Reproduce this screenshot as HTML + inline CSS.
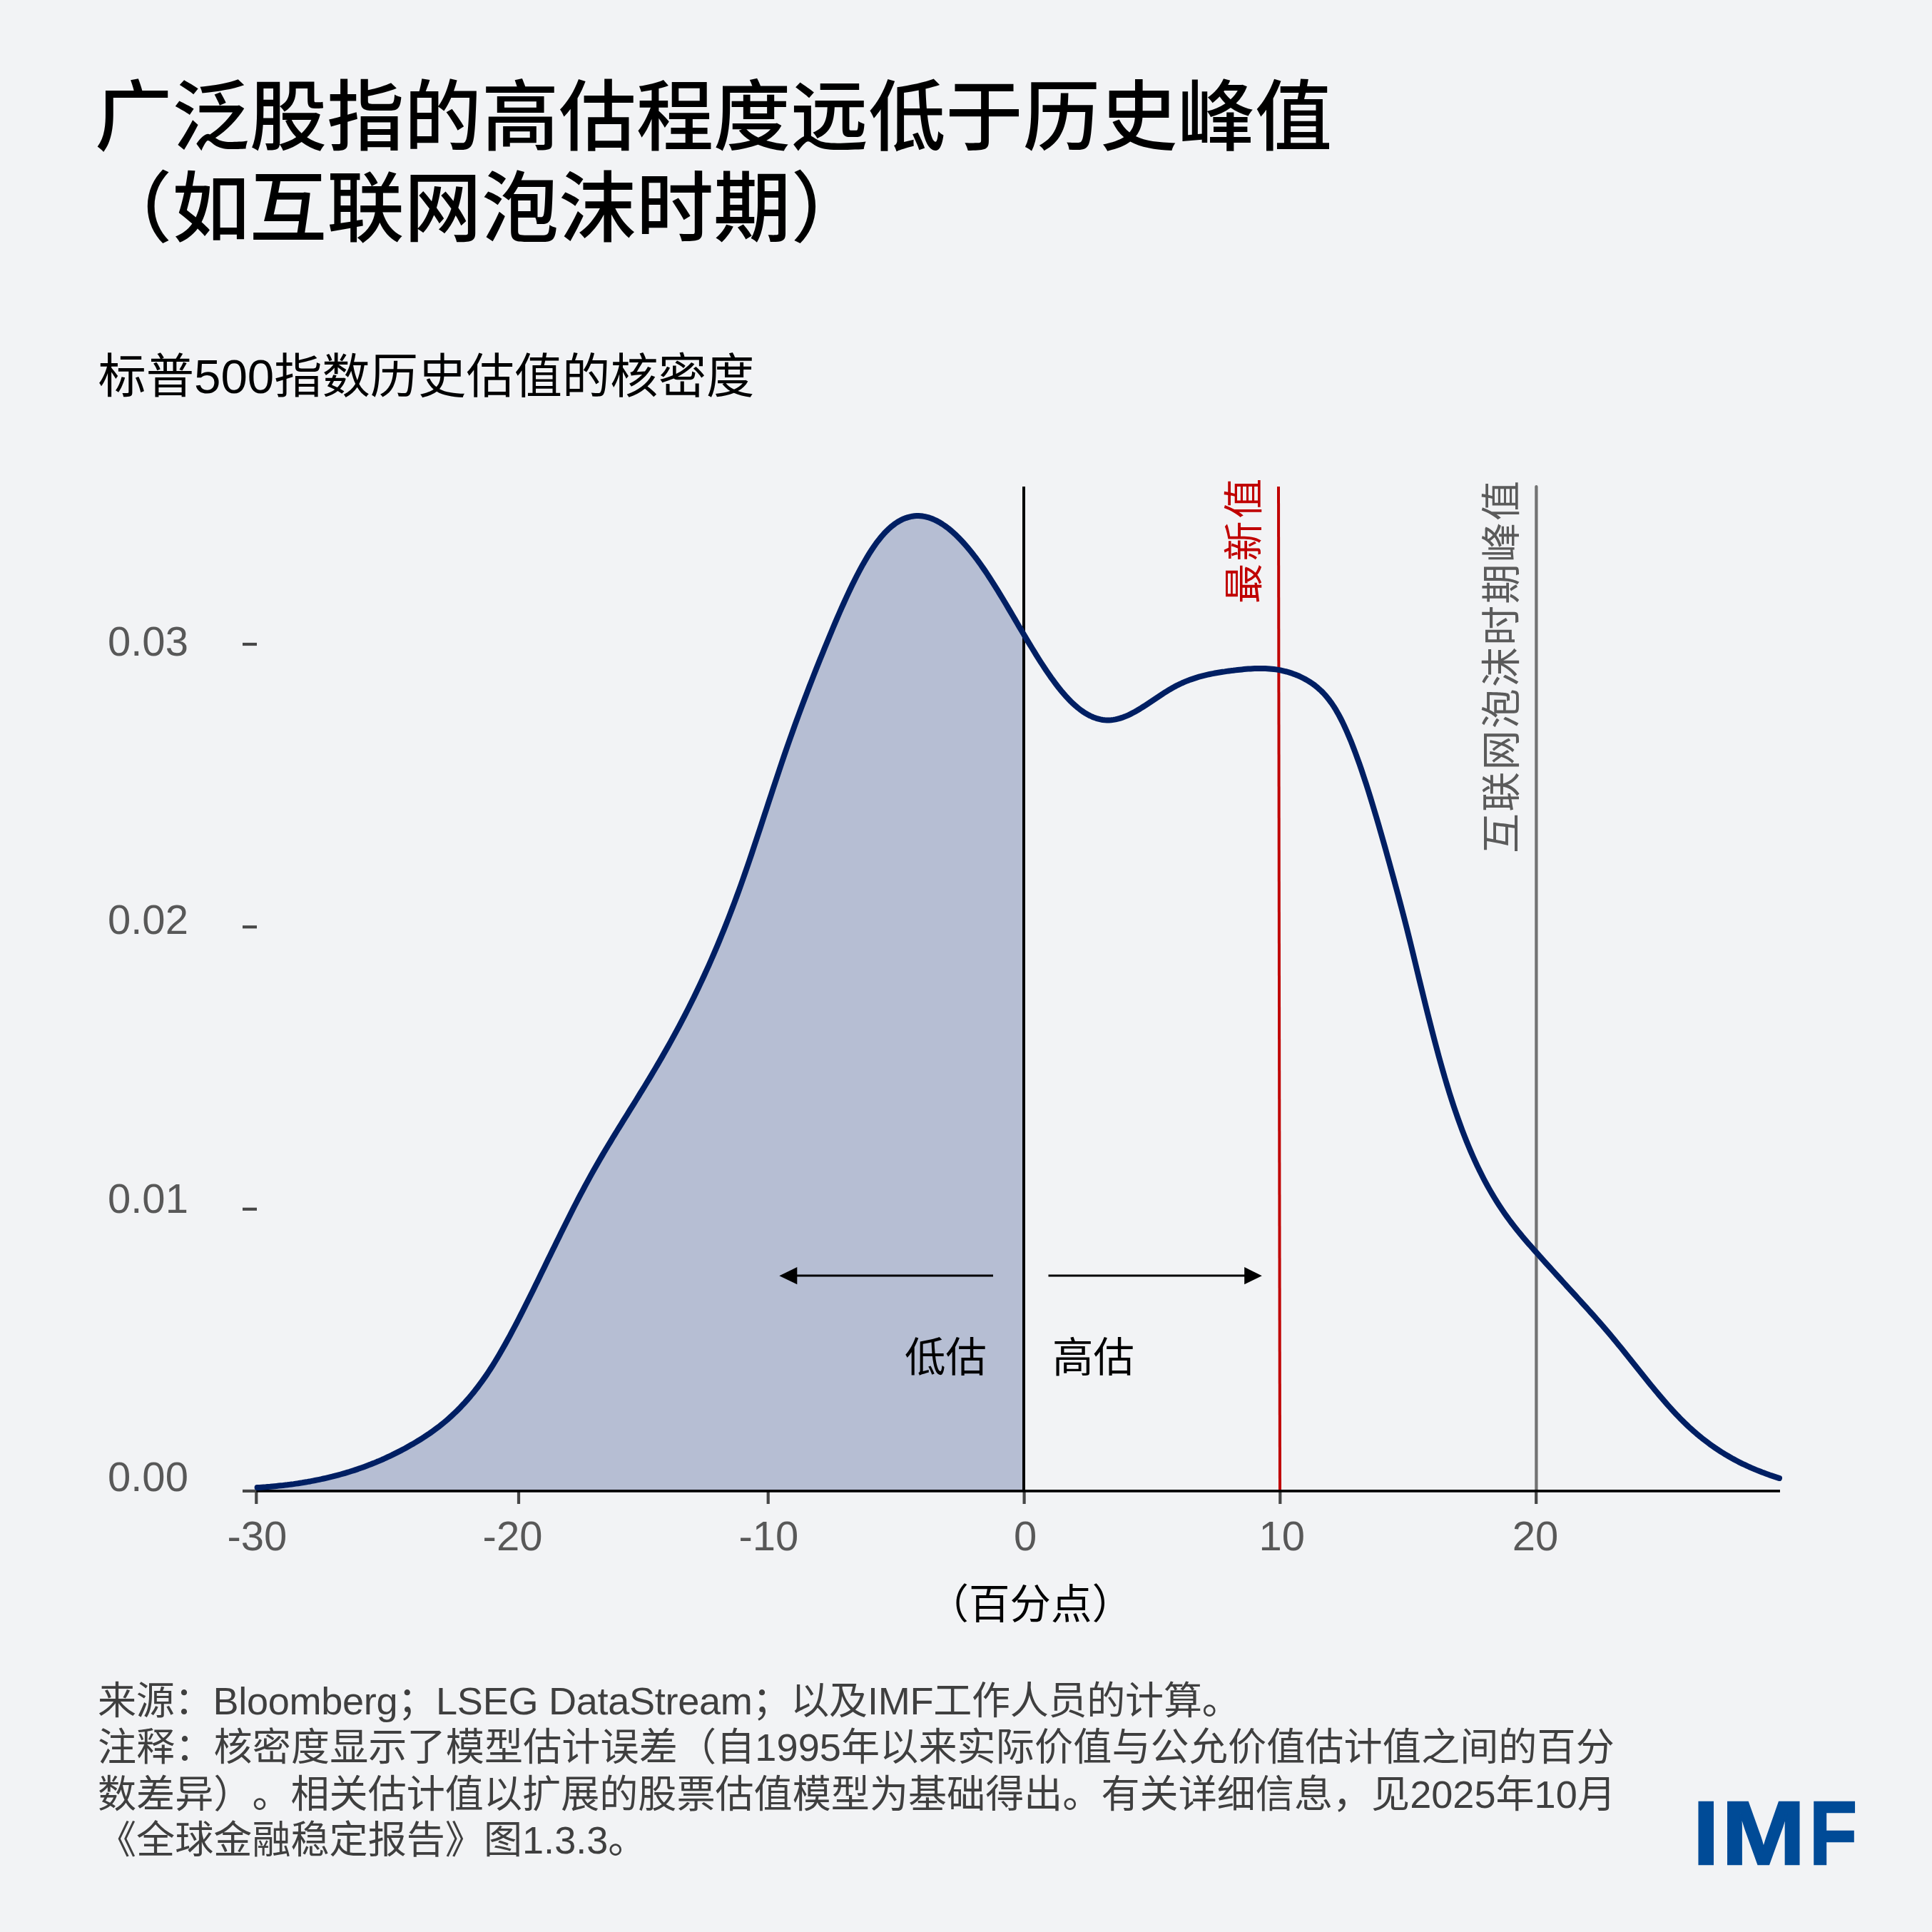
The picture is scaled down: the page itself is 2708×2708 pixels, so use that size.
<!DOCTYPE html>
<html lang="zh-CN"><head><meta charset="utf-8">
<style>
html,body{margin:0;padding:0;}
body{width:2708px;height:2708px;background:#f2f3f5;position:relative;overflow:hidden;
font-family:"Liberation Sans","Noto Sans CJK SC",sans-serif;text-spacing-trim:space-all;}
.a{position:absolute;white-space:nowrap;line-height:1;margin:0;}
#t1,#t2{font-weight:500;font-size:108.4px;color:#000;}
#t1{left:133px;top:110.5px;}
#t2{left:133px;top:239px;}
#sub{left:137.4px;top:494px;font-size:67.3px;color:#000;}
.yl{font-size:58px;color:#585858;left:151px;}
.xl{font-size:58px;color:#585858;top:2124px;}
.cl{font-size:57.5px;color:#000;}
.fl{left:137px;font-size:54.1px;color:#3f3f3f;}
.imf{font-size:126px;font-weight:700;color:#004b97;top:2507.3px;-webkit-text-stroke:2.5px #004b97;transform-origin:0 0;}
</style></head><body>
<svg width="2708" height="2708" style="position:absolute;left:0;top:0">
<path d="M360.6,2085.1 L363.6,2084.9 L366.6,2084.7 L369.6,2084.5 L372.6,2084.3 L375.6,2084.0 L378.6,2083.8 L381.6,2083.5 L384.6,2083.2 L387.6,2082.9 L390.6,2082.6 L393.6,2082.3 L396.6,2082.0 L399.6,2081.6 L402.6,2081.3 L405.6,2080.9 L408.6,2080.5 L411.6,2080.1 L414.6,2079.6 L417.6,2079.2 L420.6,2078.7 L423.6,2078.3 L426.6,2077.8 L429.6,2077.3 L432.6,2076.7 L435.6,2076.2 L438.6,2075.6 L441.6,2075.0 L444.6,2074.4 L447.6,2073.8 L450.6,2073.2 L453.6,2072.5 L456.6,2071.8 L459.6,2071.1 L462.6,2070.4 L465.6,2069.7 L468.6,2068.9 L471.6,2068.1 L474.6,2067.3 L477.6,2066.5 L480.6,2065.7 L483.6,2064.8 L486.6,2063.9 L489.6,2063.0 L492.6,2062.0 L495.6,2061.1 L498.6,2060.1 L501.6,2059.1 L504.6,2058.0 L507.6,2057.0 L510.6,2055.9 L513.6,2054.8 L516.6,2053.6 L519.6,2052.5 L522.6,2051.3 L525.6,2050.1 L528.6,2048.8 L531.6,2047.6 L534.6,2046.3 L537.6,2045.0 L540.6,2043.6 L543.6,2042.2 L546.6,2040.8 L549.6,2039.4 L552.6,2037.9 L555.6,2036.4 L558.6,2034.9 L561.6,2033.4 L564.6,2031.8 L567.6,2030.2 L570.6,2028.5 L573.6,2026.8 L576.6,2025.1 L579.6,2023.4 L582.6,2021.6 L585.6,2019.8 L588.6,2018.0 L591.6,2016.1 L594.6,2014.2 L597.6,2012.2 L600.6,2010.2 L603.6,2008.1 L606.6,2006.0 L609.6,2003.8 L612.6,2001.6 L615.6,1999.3 L618.6,1996.9 L621.6,1994.5 L624.6,1992.0 L627.6,1989.4 L630.6,1986.7 L633.6,1984.0 L636.6,1981.2 L639.6,1978.3 L642.6,1975.3 L645.6,1972.3 L648.6,1969.1 L651.6,1965.9 L654.6,1962.5 L657.6,1959.1 L660.6,1955.5 L663.6,1951.9 L666.6,1948.1 L669.6,1944.2 L672.6,1940.2 L675.6,1936.1 L678.6,1931.9 L681.6,1927.6 L684.6,1923.1 L687.6,1918.5 L690.6,1913.8 L693.6,1909.0 L696.6,1904.0 L699.6,1899.0 L702.6,1893.8 L705.6,1888.6 L708.6,1883.2 L711.6,1877.8 L714.6,1872.3 L717.6,1866.7 L720.6,1861.0 L723.6,1855.3 L726.6,1849.5 L729.6,1843.7 L732.6,1837.8 L735.6,1831.8 L738.6,1825.8 L741.6,1819.8 L744.6,1813.7 L747.6,1807.7 L750.6,1801.6 L753.6,1795.4 L756.6,1789.3 L759.6,1783.1 L762.6,1777.0 L765.6,1770.8 L768.6,1764.6 L771.6,1758.5 L774.6,1752.3 L777.6,1746.2 L780.6,1740.0 L783.6,1733.9 L786.6,1727.8 L789.6,1721.7 L792.6,1715.7 L795.6,1709.7 L798.6,1703.7 L801.6,1697.7 L804.6,1691.8 L807.6,1686.0 L810.6,1680.2 L813.6,1674.4 L816.6,1668.8 L819.6,1663.1 L822.6,1657.6 L825.6,1652.1 L828.6,1646.6 L831.6,1641.3 L834.6,1636.0 L837.6,1630.7 L840.6,1625.5 L843.6,1620.4 L846.6,1615.3 L849.6,1610.2 L852.6,1605.2 L855.6,1600.3 L858.6,1595.3 L861.6,1590.4 L864.6,1585.5 L867.6,1580.6 L870.6,1575.8 L873.6,1570.9 L876.6,1566.1 L879.6,1561.3 L882.6,1556.4 L885.6,1551.6 L888.6,1546.8 L891.6,1542.0 L894.6,1537.1 L897.6,1532.2 L900.6,1527.4 L903.6,1522.5 L906.6,1517.5 L909.6,1512.6 L912.6,1507.6 L915.6,1502.5 L918.6,1497.5 L921.6,1492.4 L924.6,1487.2 L927.6,1482.1 L930.6,1476.8 L933.6,1471.5 L936.6,1466.2 L939.6,1460.9 L942.6,1455.4 L945.6,1449.9 L948.6,1444.4 L951.6,1438.8 L954.6,1433.1 L957.6,1427.4 L960.6,1421.6 L963.6,1415.7 L966.6,1409.8 L969.6,1403.8 L972.6,1397.7 L975.6,1391.5 L978.6,1385.3 L981.6,1378.9 L984.6,1372.5 L987.6,1366.0 L990.6,1359.4 L993.6,1352.8 L996.6,1346.0 L999.6,1339.1 L1002.6,1332.1 L1005.6,1325.1 L1008.6,1317.9 L1011.6,1310.6 L1014.6,1303.2 L1017.6,1295.7 L1020.6,1288.1 L1023.6,1280.4 L1026.6,1272.5 L1029.6,1264.6 L1032.6,1256.5 L1035.6,1248.3 L1038.6,1240.0 L1041.6,1231.5 L1044.6,1222.9 L1047.6,1214.2 L1050.6,1205.5 L1053.6,1196.6 L1056.6,1187.6 L1059.6,1178.6 L1062.6,1169.6 L1065.6,1160.4 L1068.6,1151.3 L1071.6,1142.1 L1074.6,1133.0 L1077.6,1123.8 L1080.6,1114.7 L1083.6,1105.5 L1086.6,1096.4 L1089.6,1087.4 L1092.6,1078.4 L1095.6,1069.5 L1098.6,1060.6 L1101.6,1051.9 L1104.6,1043.3 L1107.6,1034.7 L1110.6,1026.3 L1113.6,1017.9 L1116.6,1009.7 L1119.6,1001.5 L1122.6,993.4 L1125.6,985.4 L1128.6,977.5 L1131.6,969.6 L1134.6,961.8 L1137.6,954.1 L1140.6,946.4 L1143.6,938.8 L1146.6,931.3 L1149.6,923.8 L1152.6,916.4 L1155.6,909.0 L1158.6,901.7 L1161.6,894.4 L1164.6,887.2 L1167.6,880.0 L1170.6,872.9 L1173.6,865.9 L1176.6,859.0 L1179.6,852.2 L1182.6,845.5 L1185.6,838.9 L1188.6,832.4 L1191.6,826.0 L1194.6,819.8 L1197.6,813.7 L1200.6,807.8 L1203.6,802.0 L1206.6,796.4 L1209.6,790.9 L1212.6,785.7 L1215.6,780.6 L1218.6,775.7 L1221.6,771.0 L1224.6,766.5 L1227.6,762.2 L1230.6,758.2 L1233.6,754.4 L1236.6,750.8 L1239.6,747.4 L1242.6,744.3 L1245.6,741.4 L1248.6,738.7 L1251.6,736.3 L1254.6,734.0 L1257.6,732.0 L1260.6,730.2 L1263.6,728.6 L1266.6,727.2 L1269.6,726.1 L1272.6,725.1 L1275.6,724.3 L1278.6,723.7 L1281.6,723.3 L1284.6,723.1 L1287.6,723.1 L1290.6,723.3 L1293.6,723.6 L1296.6,724.2 L1299.6,724.9 L1302.6,725.7 L1305.6,726.8 L1308.6,728.0 L1311.6,729.4 L1314.6,730.9 L1317.6,732.6 L1320.6,734.5 L1323.6,736.5 L1326.6,738.6 L1329.6,740.9 L1332.6,743.4 L1335.6,746.0 L1338.6,748.7 L1341.6,751.6 L1344.6,754.6 L1347.6,757.7 L1350.6,761.0 L1353.6,764.4 L1356.6,767.9 L1359.6,771.5 L1362.6,775.2 L1365.6,779.1 L1368.6,783.0 L1371.6,787.1 L1374.6,791.3 L1377.6,795.6 L1380.6,799.9 L1383.6,804.4 L1386.6,809.0 L1389.6,813.6 L1392.6,818.3 L1395.6,823.1 L1398.6,827.9 L1401.6,832.8 L1404.6,837.8 L1407.6,842.8 L1410.6,847.8 L1413.6,852.9 L1416.6,857.9 L1419.6,863.0 L1422.6,868.1 L1425.6,873.2 L1428.6,878.4 L1431.6,883.4 L1434.6,888.5 L1435.0,889.2 L1435.0,2090 L360.6,2090 Z" fill="#b6bed3" stroke="none"/>
<g stroke="#474747" stroke-width="4.2">
<line x1="340" y1="903" x2="360" y2="903"/>
<line x1="340" y1="1299.3" x2="360" y2="1299.3"/>
<line x1="340" y1="1694.8" x2="360" y2="1694.8"/>
<line x1="340" y1="2089.9" x2="360" y2="2089.9"/>
<line x1="359.3" y1="2090" x2="359.3" y2="2108"/>
<line x1="727" y1="2090" x2="727" y2="2108"/>
<line x1="1076.7" y1="2090" x2="1076.7" y2="2108"/>
<line x1="1435.6" y1="2090" x2="1435.6" y2="2108"/>
<line x1="1794.3" y1="2090" x2="1794.3" y2="2108"/>
<line x1="2153.2" y1="2090" x2="2153.2" y2="2108"/>
</g>
<line x1="1435" y1="682" x2="1435" y2="2090" stroke="#000" stroke-width="4"/>
<line x1="1792" y1="682" x2="1794" y2="2090" stroke="#c00000" stroke-width="4"/>
<line x1="2153.4" y1="682.2" x2="2153.4" y2="2090" stroke="#737373" stroke-width="4.3" stroke-linecap="round"/>
<line x1="359.3" y1="2089.8" x2="2495" y2="2089.8" stroke="#000" stroke-width="3.8"/>
<path d="M360.6,2085.1 L363.6,2084.9 L366.6,2084.7 L369.6,2084.5 L372.6,2084.3 L375.6,2084.0 L378.6,2083.8 L381.6,2083.5 L384.6,2083.2 L387.6,2082.9 L390.6,2082.6 L393.6,2082.3 L396.6,2082.0 L399.6,2081.6 L402.6,2081.3 L405.6,2080.9 L408.6,2080.5 L411.6,2080.1 L414.6,2079.6 L417.6,2079.2 L420.6,2078.7 L423.6,2078.3 L426.6,2077.8 L429.6,2077.3 L432.6,2076.7 L435.6,2076.2 L438.6,2075.6 L441.6,2075.0 L444.6,2074.4 L447.6,2073.8 L450.6,2073.2 L453.6,2072.5 L456.6,2071.8 L459.6,2071.1 L462.6,2070.4 L465.6,2069.7 L468.6,2068.9 L471.6,2068.1 L474.6,2067.3 L477.6,2066.5 L480.6,2065.7 L483.6,2064.8 L486.6,2063.9 L489.6,2063.0 L492.6,2062.0 L495.6,2061.1 L498.6,2060.1 L501.6,2059.1 L504.6,2058.0 L507.6,2057.0 L510.6,2055.9 L513.6,2054.8 L516.6,2053.6 L519.6,2052.5 L522.6,2051.3 L525.6,2050.1 L528.6,2048.8 L531.6,2047.6 L534.6,2046.3 L537.6,2045.0 L540.6,2043.6 L543.6,2042.2 L546.6,2040.8 L549.6,2039.4 L552.6,2037.9 L555.6,2036.4 L558.6,2034.9 L561.6,2033.4 L564.6,2031.8 L567.6,2030.2 L570.6,2028.5 L573.6,2026.8 L576.6,2025.1 L579.6,2023.4 L582.6,2021.6 L585.6,2019.8 L588.6,2018.0 L591.6,2016.1 L594.6,2014.2 L597.6,2012.2 L600.6,2010.2 L603.6,2008.1 L606.6,2006.0 L609.6,2003.8 L612.6,2001.6 L615.6,1999.3 L618.6,1996.9 L621.6,1994.5 L624.6,1992.0 L627.6,1989.4 L630.6,1986.7 L633.6,1984.0 L636.6,1981.2 L639.6,1978.3 L642.6,1975.3 L645.6,1972.3 L648.6,1969.1 L651.6,1965.9 L654.6,1962.5 L657.6,1959.1 L660.6,1955.5 L663.6,1951.9 L666.6,1948.1 L669.6,1944.2 L672.6,1940.2 L675.6,1936.1 L678.6,1931.9 L681.6,1927.6 L684.6,1923.1 L687.6,1918.5 L690.6,1913.8 L693.6,1909.0 L696.6,1904.0 L699.6,1899.0 L702.6,1893.8 L705.6,1888.6 L708.6,1883.2 L711.6,1877.8 L714.6,1872.3 L717.6,1866.7 L720.6,1861.0 L723.6,1855.3 L726.6,1849.5 L729.6,1843.7 L732.6,1837.8 L735.6,1831.8 L738.6,1825.8 L741.6,1819.8 L744.6,1813.7 L747.6,1807.7 L750.6,1801.6 L753.6,1795.4 L756.6,1789.3 L759.6,1783.1 L762.6,1777.0 L765.6,1770.8 L768.6,1764.6 L771.6,1758.5 L774.6,1752.3 L777.6,1746.2 L780.6,1740.0 L783.6,1733.9 L786.6,1727.8 L789.6,1721.7 L792.6,1715.7 L795.6,1709.7 L798.6,1703.7 L801.6,1697.7 L804.6,1691.8 L807.6,1686.0 L810.6,1680.2 L813.6,1674.4 L816.6,1668.8 L819.6,1663.1 L822.6,1657.6 L825.6,1652.1 L828.6,1646.6 L831.6,1641.3 L834.6,1636.0 L837.6,1630.7 L840.6,1625.5 L843.6,1620.4 L846.6,1615.3 L849.6,1610.2 L852.6,1605.2 L855.6,1600.3 L858.6,1595.3 L861.6,1590.4 L864.6,1585.5 L867.6,1580.6 L870.6,1575.8 L873.6,1570.9 L876.6,1566.1 L879.6,1561.3 L882.6,1556.4 L885.6,1551.6 L888.6,1546.8 L891.6,1542.0 L894.6,1537.1 L897.6,1532.2 L900.6,1527.4 L903.6,1522.5 L906.6,1517.5 L909.6,1512.6 L912.6,1507.6 L915.6,1502.5 L918.6,1497.5 L921.6,1492.4 L924.6,1487.2 L927.6,1482.1 L930.6,1476.8 L933.6,1471.5 L936.6,1466.2 L939.6,1460.9 L942.6,1455.4 L945.6,1449.9 L948.6,1444.4 L951.6,1438.8 L954.6,1433.1 L957.6,1427.4 L960.6,1421.6 L963.6,1415.7 L966.6,1409.8 L969.6,1403.8 L972.6,1397.7 L975.6,1391.5 L978.6,1385.3 L981.6,1378.9 L984.6,1372.5 L987.6,1366.0 L990.6,1359.4 L993.6,1352.8 L996.6,1346.0 L999.6,1339.1 L1002.6,1332.1 L1005.6,1325.1 L1008.6,1317.9 L1011.6,1310.6 L1014.6,1303.2 L1017.6,1295.7 L1020.6,1288.1 L1023.6,1280.4 L1026.6,1272.5 L1029.6,1264.6 L1032.6,1256.5 L1035.6,1248.3 L1038.6,1240.0 L1041.6,1231.5 L1044.6,1222.9 L1047.6,1214.2 L1050.6,1205.5 L1053.6,1196.6 L1056.6,1187.6 L1059.6,1178.6 L1062.6,1169.6 L1065.6,1160.4 L1068.6,1151.3 L1071.6,1142.1 L1074.6,1133.0 L1077.6,1123.8 L1080.6,1114.7 L1083.6,1105.5 L1086.6,1096.4 L1089.6,1087.4 L1092.6,1078.4 L1095.6,1069.5 L1098.6,1060.6 L1101.6,1051.9 L1104.6,1043.3 L1107.6,1034.7 L1110.6,1026.3 L1113.6,1017.9 L1116.6,1009.7 L1119.6,1001.5 L1122.6,993.4 L1125.6,985.4 L1128.6,977.5 L1131.6,969.6 L1134.6,961.8 L1137.6,954.1 L1140.6,946.4 L1143.6,938.8 L1146.6,931.3 L1149.6,923.8 L1152.6,916.4 L1155.6,909.0 L1158.6,901.7 L1161.6,894.4 L1164.6,887.2 L1167.6,880.0 L1170.6,872.9 L1173.6,865.9 L1176.6,859.0 L1179.6,852.2 L1182.6,845.5 L1185.6,838.9 L1188.6,832.4 L1191.6,826.0 L1194.6,819.8 L1197.6,813.7 L1200.6,807.8 L1203.6,802.0 L1206.6,796.4 L1209.6,790.9 L1212.6,785.7 L1215.6,780.6 L1218.6,775.7 L1221.6,771.0 L1224.6,766.5 L1227.6,762.2 L1230.6,758.2 L1233.6,754.4 L1236.6,750.8 L1239.6,747.4 L1242.6,744.3 L1245.6,741.4 L1248.6,738.7 L1251.6,736.3 L1254.6,734.0 L1257.6,732.0 L1260.6,730.2 L1263.6,728.6 L1266.6,727.2 L1269.6,726.1 L1272.6,725.1 L1275.6,724.3 L1278.6,723.7 L1281.6,723.3 L1284.6,723.1 L1287.6,723.1 L1290.6,723.3 L1293.6,723.6 L1296.6,724.2 L1299.6,724.9 L1302.6,725.7 L1305.6,726.8 L1308.6,728.0 L1311.6,729.4 L1314.6,730.9 L1317.6,732.6 L1320.6,734.5 L1323.6,736.5 L1326.6,738.6 L1329.6,740.9 L1332.6,743.4 L1335.6,746.0 L1338.6,748.7 L1341.6,751.6 L1344.6,754.6 L1347.6,757.7 L1350.6,761.0 L1353.6,764.4 L1356.6,767.9 L1359.6,771.5 L1362.6,775.2 L1365.6,779.1 L1368.6,783.0 L1371.6,787.1 L1374.6,791.3 L1377.6,795.6 L1380.6,799.9 L1383.6,804.4 L1386.6,809.0 L1389.6,813.6 L1392.6,818.3 L1395.6,823.1 L1398.6,827.9 L1401.6,832.8 L1404.6,837.8 L1407.6,842.8 L1410.6,847.8 L1413.6,852.9 L1416.6,857.9 L1419.6,863.0 L1422.6,868.1 L1425.6,873.2 L1428.6,878.4 L1431.6,883.4 L1434.6,888.5 L1437.6,893.6 L1440.6,898.6 L1443.6,903.6 L1446.6,908.5 L1449.6,913.4 L1452.6,918.3 L1455.6,923.1 L1458.6,927.8 L1461.6,932.4 L1464.6,937.0 L1467.6,941.4 L1470.6,945.8 L1473.6,950.1 L1476.6,954.2 L1479.6,958.3 L1482.6,962.2 L1485.6,966.0 L1488.6,969.7 L1491.6,973.2 L1494.6,976.6 L1497.6,979.8 L1500.6,982.9 L1503.6,985.8 L1506.6,988.5 L1509.6,991.1 L1512.6,993.5 L1515.6,995.8 L1518.6,997.9 L1521.6,999.8 L1524.6,1001.5 L1527.6,1003.1 L1530.6,1004.5 L1533.6,1005.8 L1536.6,1006.8 L1539.6,1007.7 L1542.6,1008.4 L1545.6,1009.0 L1548.6,1009.3 L1551.6,1009.5 L1554.6,1009.5 L1557.6,1009.3 L1560.6,1008.9 L1563.6,1008.4 L1566.6,1007.7 L1569.6,1006.9 L1572.6,1005.9 L1575.6,1004.8 L1578.6,1003.6 L1581.6,1002.3 L1584.6,1000.9 L1587.6,999.3 L1590.6,997.7 L1593.6,996.0 L1596.6,994.2 L1599.6,992.4 L1602.6,990.5 L1605.6,988.6 L1608.6,986.6 L1611.6,984.6 L1614.6,982.6 L1617.6,980.6 L1620.6,978.6 L1623.6,976.6 L1626.6,974.6 L1629.6,972.6 L1632.6,970.7 L1635.6,968.8 L1638.6,966.9 L1641.6,965.2 L1644.6,963.5 L1647.6,961.9 L1650.6,960.3 L1653.6,958.9 L1656.6,957.5 L1659.6,956.2 L1662.6,954.9 L1665.6,953.7 L1668.6,952.6 L1671.6,951.6 L1674.6,950.6 L1677.6,949.6 L1680.6,948.7 L1683.6,947.9 L1686.6,947.1 L1689.6,946.4 L1692.6,945.7 L1695.6,945.0 L1698.6,944.4 L1701.6,943.8 L1704.6,943.3 L1707.6,942.8 L1710.6,942.3 L1713.6,941.8 L1716.6,941.4 L1719.6,940.9 L1722.6,940.5 L1725.6,940.1 L1728.6,939.8 L1731.6,939.4 L1734.6,939.0 L1737.6,938.7 L1740.6,938.4 L1743.6,938.1 L1746.6,937.8 L1749.6,937.6 L1752.6,937.4 L1755.6,937.2 L1758.6,937.1 L1761.6,937.0 L1764.6,936.9 L1767.6,936.9 L1770.6,937.0 L1773.6,937.1 L1776.6,937.2 L1779.6,937.4 L1782.6,937.7 L1785.6,938.0 L1788.6,938.4 L1791.6,938.9 L1794.6,939.4 L1797.6,940.1 L1800.6,940.8 L1803.6,941.5 L1806.6,942.4 L1809.6,943.3 L1812.6,944.4 L1815.6,945.5 L1818.6,946.7 L1821.6,948.0 L1824.6,949.5 L1827.6,951.0 L1830.6,952.6 L1833.6,954.4 L1836.6,956.2 L1839.6,958.3 L1842.6,960.4 L1845.6,962.8 L1848.6,965.4 L1851.6,968.1 L1854.6,971.1 L1857.6,974.4 L1860.6,978.0 L1863.6,981.8 L1866.6,985.9 L1869.6,990.4 L1872.6,995.2 L1875.6,1000.4 L1878.6,1006.0 L1881.6,1011.9 L1884.6,1018.2 L1887.6,1024.8 L1890.6,1031.8 L1893.6,1039.1 L1896.6,1046.7 L1899.6,1054.6 L1902.6,1062.8 L1905.6,1071.2 L1908.6,1079.9 L1911.6,1088.9 L1914.6,1098.0 L1917.6,1107.4 L1920.6,1117.0 L1923.6,1126.8 L1926.6,1136.8 L1929.6,1146.9 L1932.6,1157.1 L1935.6,1167.6 L1938.6,1178.1 L1941.6,1188.7 L1944.6,1199.5 L1947.6,1210.3 L1950.6,1221.2 L1953.6,1232.1 L1956.6,1243.2 L1959.6,1254.3 L1962.6,1265.6 L1965.6,1277.0 L1968.6,1288.6 L1971.6,1300.3 L1974.6,1312.2 L1977.6,1324.4 L1980.6,1336.7 L1983.6,1349.1 L1986.6,1361.6 L1989.6,1374.0 L1992.6,1386.3 L1995.6,1398.5 L1998.6,1410.7 L2001.6,1422.7 L2004.6,1434.5 L2007.6,1446.2 L2010.6,1457.7 L2013.6,1469.1 L2016.6,1480.2 L2019.6,1491.0 L2022.6,1501.6 L2025.6,1512.0 L2028.6,1522.0 L2031.6,1531.8 L2034.6,1541.2 L2037.6,1550.4 L2040.6,1559.3 L2043.6,1567.9 L2046.6,1576.2 L2049.6,1584.3 L2052.6,1592.1 L2055.6,1599.7 L2058.6,1607.0 L2061.6,1614.1 L2064.6,1621.0 L2067.6,1627.6 L2070.6,1634.1 L2073.6,1640.3 L2076.6,1646.3 L2079.6,1652.2 L2082.6,1657.8 L2085.6,1663.3 L2088.6,1668.6 L2091.6,1673.8 L2094.6,1678.8 L2097.6,1683.6 L2100.6,1688.3 L2103.6,1692.9 L2106.6,1697.4 L2109.6,1701.7 L2112.6,1705.9 L2115.6,1710.0 L2118.6,1714.0 L2121.6,1717.9 L2124.6,1721.7 L2127.6,1725.5 L2130.6,1729.1 L2133.6,1732.8 L2136.6,1736.3 L2139.6,1739.8 L2142.6,1743.3 L2145.6,1746.7 L2148.6,1750.1 L2151.6,1753.5 L2154.6,1756.8 L2157.6,1760.2 L2160.6,1763.5 L2163.6,1766.9 L2166.6,1770.2 L2169.6,1773.5 L2172.6,1776.8 L2175.6,1780.1 L2178.6,1783.4 L2181.6,1786.7 L2184.6,1790.0 L2187.6,1793.3 L2190.6,1796.6 L2193.6,1799.9 L2196.6,1803.2 L2199.6,1806.4 L2202.6,1809.7 L2205.6,1813.0 L2208.6,1816.3 L2211.6,1819.6 L2214.6,1822.9 L2217.6,1826.2 L2220.6,1829.5 L2223.6,1832.8 L2226.6,1836.1 L2229.6,1839.5 L2232.6,1842.8 L2235.6,1846.2 L2238.6,1849.6 L2241.6,1853.0 L2244.6,1856.4 L2247.6,1859.9 L2250.6,1863.4 L2253.6,1866.9 L2256.6,1870.4 L2259.6,1874.0 L2262.6,1877.6 L2265.6,1881.2 L2268.6,1884.9 L2271.6,1888.5 L2274.6,1892.2 L2277.6,1896.0 L2280.6,1899.7 L2283.6,1903.4 L2286.6,1907.2 L2289.6,1910.9 L2292.6,1914.7 L2295.6,1918.5 L2298.6,1922.2 L2301.6,1926.0 L2304.6,1929.7 L2307.6,1933.4 L2310.6,1937.2 L2313.6,1940.9 L2316.6,1944.5 L2319.6,1948.2 L2322.6,1951.8 L2325.6,1955.4 L2328.6,1958.9 L2331.6,1962.4 L2334.6,1965.9 L2337.6,1969.3 L2340.6,1972.6 L2343.6,1976.0 L2346.6,1979.2 L2349.6,1982.4 L2352.6,1985.6 L2355.6,1988.7 L2358.6,1991.7 L2361.6,1994.6 L2364.6,1997.5 L2367.6,2000.3 L2370.6,2003.0 L2373.6,2005.7 L2376.6,2008.3 L2379.6,2010.9 L2382.6,2013.3 L2385.6,2015.8 L2388.6,2018.1 L2391.6,2020.4 L2394.6,2022.7 L2397.6,2024.9 L2400.6,2027.0 L2403.6,2029.1 L2406.6,2031.1 L2409.6,2033.1 L2412.6,2035.1 L2415.6,2036.9 L2418.6,2038.8 L2421.6,2040.5 L2424.6,2042.3 L2427.6,2044.0 L2430.6,2045.6 L2433.6,2047.2 L2436.6,2048.8 L2439.6,2050.3 L2442.6,2051.8 L2445.6,2053.2 L2448.6,2054.6 L2451.6,2056.0 L2454.6,2057.3 L2457.6,2058.6 L2460.6,2059.9 L2463.6,2061.1 L2466.6,2062.3 L2469.6,2063.5 L2472.6,2064.6 L2475.6,2065.7 L2478.6,2066.8 L2481.6,2067.9 L2484.6,2068.9 L2487.6,2069.9 L2490.6,2070.9 L2493.6,2071.9 L2494.0,2072.0" fill="none" stroke="#001f63" stroke-width="8" stroke-linecap="round" stroke-linejoin="round"/>
<g stroke="#000" stroke-width="3">
<line x1="1115" y1="1788" x2="1392" y2="1788"/>
<line x1="1469.5" y1="1788" x2="1746" y2="1788"/>
</g>
<polygon points="1092.3,1788.2 1117.3,1776.1 1117.3,1800.3" fill="#000"/>
<polygon points="1768.8,1788.2 1744.2,1776.1 1744.2,1800.3" fill="#000"/>
</svg>
<div class="a" id="t1">广泛股指的高估程度远低于历史峰值</div>
<div class="a" id="t2">（如互联网泡沫时期）</div>
<div class="a" id="sub">标普500指数历史估值的核密度</div>
<div class="a yl" style="top:870px">0.03</div>
<div class="a yl" style="top:1260px">0.02</div>
<div class="a yl" style="top:1651px">0.01</div>
<div class="a yl" style="top:2041px">0.00</div>
<div class="a xl" style="left:318.5px">-30</div>
<div class="a xl" style="left:676.6px">-20</div>
<div class="a xl" style="left:1035.4px">-10</div>
<div class="a xl" style="left:1421px">0</div>
<div class="a xl" style="left:1764.6px">10</div>
<div class="a xl" style="left:2119.8px">20</div>
<div class="a cl" style="left:1268px;top:1875px">低估</div>
<div class="a cl" style="left:1475px;top:1875px">高估</div>
<div class="a cl" style="left:1300.5px;top:2221px">（百分点）</div>
<div class="a cl" id="red" style="left:1716px;top:846px;font-size:56px;letter-spacing:3.6px;color:#c00000;transform-origin:0 0;transform:rotate(-90deg)">最新值</div>
<div class="a cl" id="gray" style="left:2076.5px;top:1196px;color:#5b5b5b;font-size:56px;letter-spacing:2.25px;transform-origin:0 0;transform:rotate(-90deg)">互联网泡沫时期峰值</div>
<div class="a fl" style="top:2356.5px;letter-spacing:-0.3px">来源：Bloomberg；LSEG DataStream；以及IMF工作人员的计算。</div>
<div class="a fl" style="top:2421.5px;letter-spacing:0.1px">注释：核密度显示了模型估计误差（自1995年以来实际价值与公允价值估计值之间的百分</div>
<div class="a fl" style="top:2487.5px">数差异）。相关估计值以扩展的股票估值模型为基础得出。有关详细信息，见2025年10月</div>
<div class="a fl" style="top:2551.5px">《全球金融稳定报告》图1.3.3。</div>
<div class="a imf" style="left:2373px;transform:scale(1.043,1.0)">I</div>
<div class="a imf" style="left:2413px;transform:scale(1.12,1.0)">M</div>
<div class="a imf" style="left:2536px;transform:scale(0.87,1.0)">F</div>
</body></html>
